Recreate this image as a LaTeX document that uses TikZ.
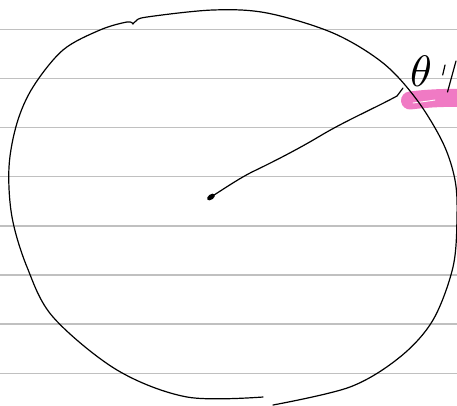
\documentclass[tikz,border=0pt]{standalone}
\usepackage{amsmath,amssymb}
\usetikzlibrary{arrows.meta}
\definecolor{rulegray}{RGB}{192,192,192}
\definecolor{markpink}{RGB}{240,122,196}

\begin{document}
\begin{tikzpicture}[x=1pt, y=-1pt,
	ink/.style={black, line width=1.2pt, line cap=round, line join=round},
	ruling/.style={rulegray, line width=1.4pt},
	marker/.style={markpink, line width=18pt, line cap=round}]
	\useasboundingbox (0,0) rectangle (457,405);
	% ruled paper
	\foreach \y in {29.5,78.5,127.5,176.5,225.8,275,324,373.3} {
		\draw[ruling] (0,\y) -- (457,\y);
	}
	% highlighter stroke
	\draw[marker] (410,100.5) .. controls (422,99) and (440,97.5) .. (458,98);
	\draw[white, line width=0.9pt, line cap=round] (413,103) .. controls (421,102) and (429,101) .. (435,100);
	% the circle, two strokes
	\draw[ink] plot[smooth, tension=0.55] coordinates {(133,24) (136,21) (147,17) (213,10) (267,13) (333,33) (383,63) (417,100) (443,143) (455,180) (457,217) (453,267) (433,320) (400,357) (350,387) (273,405)};
	\draw[ink] plot[smooth, tension=0.55] coordinates {(263,397) (187,397) (117,370) (53,317) (27,267) (12,217) (9,167) (17,123) (33,87) (63,50) (100,30) (127,22) (133,24)};
	% centre and radius
	\coordinate (centre) at (211,197);
	\coordinate (rim) at (403,88);
	\fill[rotate around={35:(centre)}] (centre) ellipse (4.5pt and 2.6pt);
	\draw[ink] (centre) .. controls (225,188) and (240,178) .. (252,172)
		.. controls (275,161) and (300,148) .. (320,136)
		.. controls (345,121) and (375,108) .. (397,96) -- (rim);
	% label
	\node[inner sep=0pt, scale=4.4] (theta) at (421,71) {$\theta$};
	\draw[ink] (445,65) -- (442.7,75);
	\draw[ink] (456,61) -- (447.5,92);
\end{tikzpicture}
\end{document}
